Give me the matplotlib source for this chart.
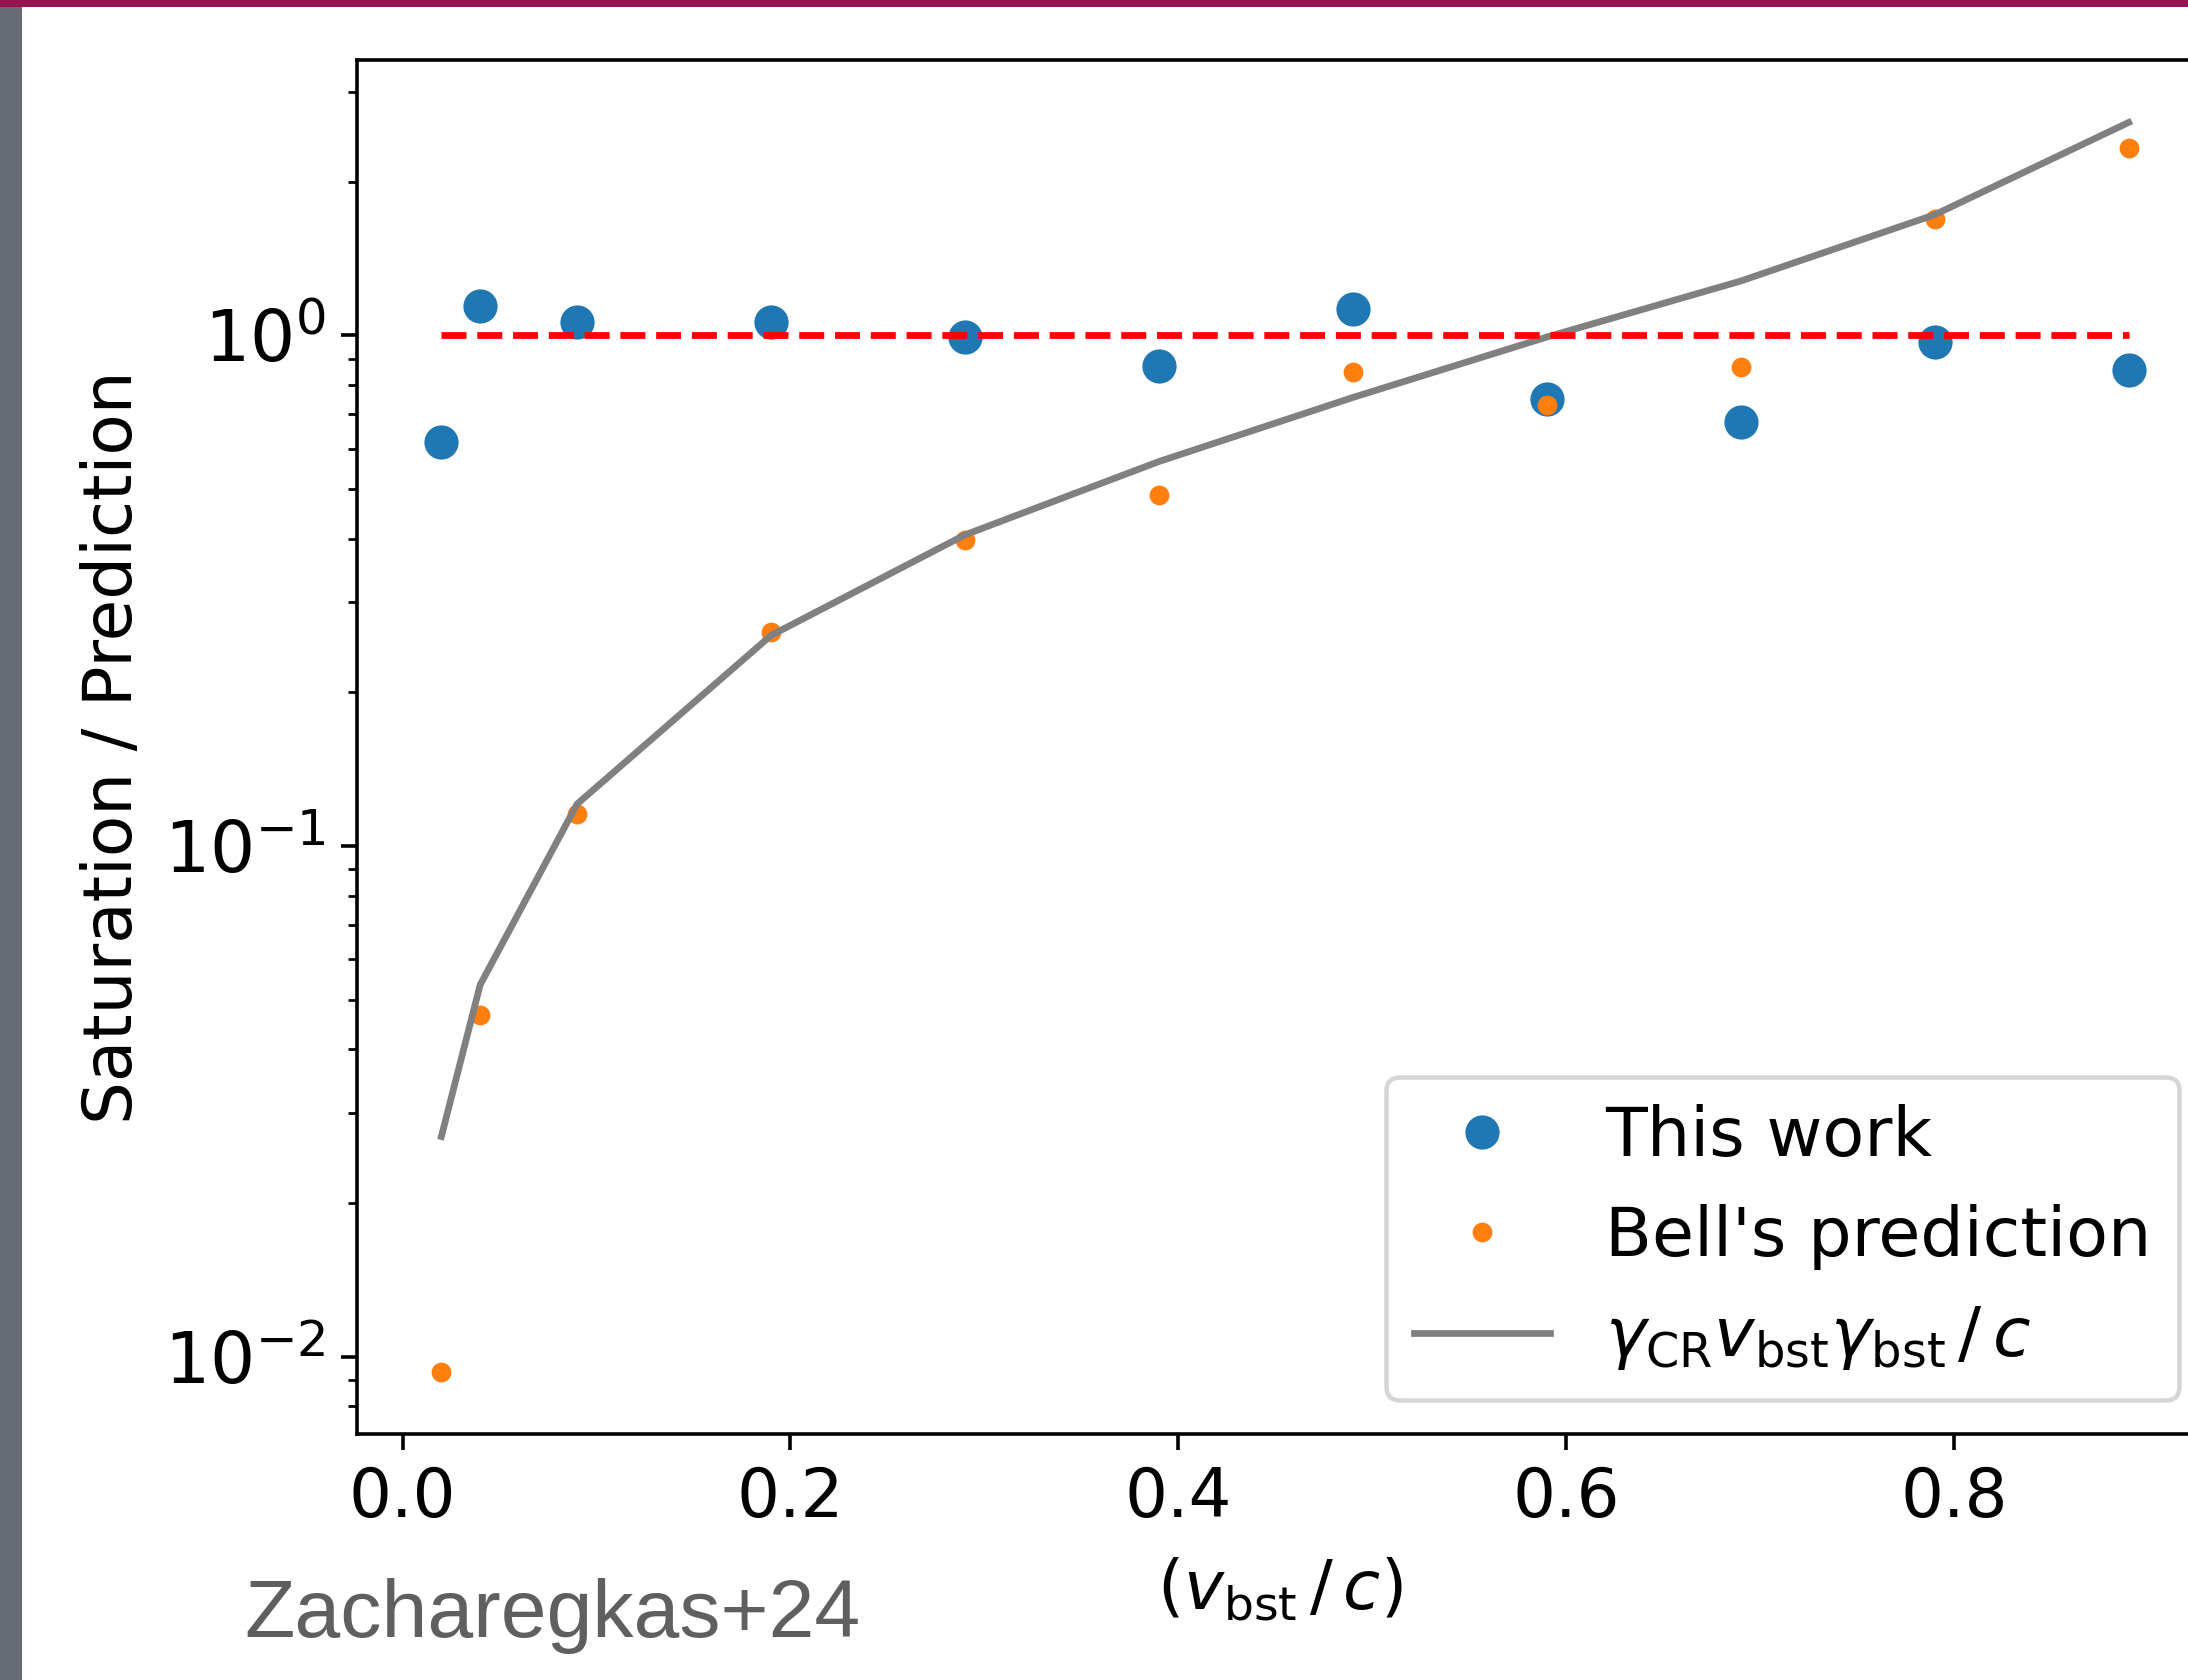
import matplotlib

matplotlib.use("Agg")
import matplotlib.pyplot as plt
from matplotlib.patches import Rectangle

# boost speed v_bst / c
v_bst = [0.02, 0.04, 0.09, 0.19, 0.29, 0.39, 0.49, 0.59, 0.69, 0.79, 0.89]

# saturation / prediction
this_work = [0.619, 1.139, 1.062, 1.062, 0.992, 0.871, 1.124, 0.752, 0.677, 0.968, 0.854]
bell = [0.00936, 0.0467, 0.1158, 0.2622, 0.3966, 0.487, 0.847, 0.729, 0.865, 1.688, 2.322]
gamma_line = [0.0270, 0.0535, 0.1209, 0.2585, 0.4067, 0.566, 0.7555, 0.992, 1.277, 1.722, 2.610]

DPI = 324
W, H = 2188, 1680

fig = plt.figure(figsize=(W / DPI, H / DPI), dpi=DPI)

# slide frame bits around the pasted figure
fig.add_artist(Rectangle((0, 0), 22 / W, 1, transform=fig.transFigure,
                         facecolor="#666b74", edgecolor="none", zorder=0))
fig.add_artist(Rectangle((0, 1 - 7 / H), 1, 7 / H, transform=fig.transFigure,
                         facecolor="#931650", edgecolor="none", zorder=0))

ax = fig.add_axes([357 / W, 246 / H, 1856 / W, 1374 / H])

ax.plot(v_bst, this_work, "o", color="C0", markersize=6.6, label="This work")
ax.plot(v_bst, bell, "o", color="C1", markersize=3.4, label="Bell's prediction")
ax.plot(v_bst, gamma_line, "-", color="gray", lw=1.5,
        label=r"$\gamma_{\rm CR} v_{\rm bst}\gamma_{\rm bst}\,/\,c$")
ax.plot([v_bst[0], v_bst[-1]], [1, 1], "--", color="r", lw=1.5)

ax.set_yscale("log")
ax.set_xticks([0.0, 0.2, 0.4, 0.6, 0.8])
ax.tick_params(axis="x", labelsize=15)
ax.tick_params(axis="y", labelsize=15.8)
ax.set_xlabel(r"$(v_{\rm bst}\,/\,c)$", fontsize=15, labelpad=5.5)
ax.xaxis.label.set_x(0.497)
ax.set_ylabel("Saturation / Prediction", fontsize=15)
ax.legend(loc="lower right", fontsize=15.2)

fig.text(244 / W, 43 / H, "Zacharegkas+24", family="Liberation Sans",
         fontsize=18.3, color="#5f5f5f", va="baseline")

fig.savefig("out.png", dpi=DPI)
